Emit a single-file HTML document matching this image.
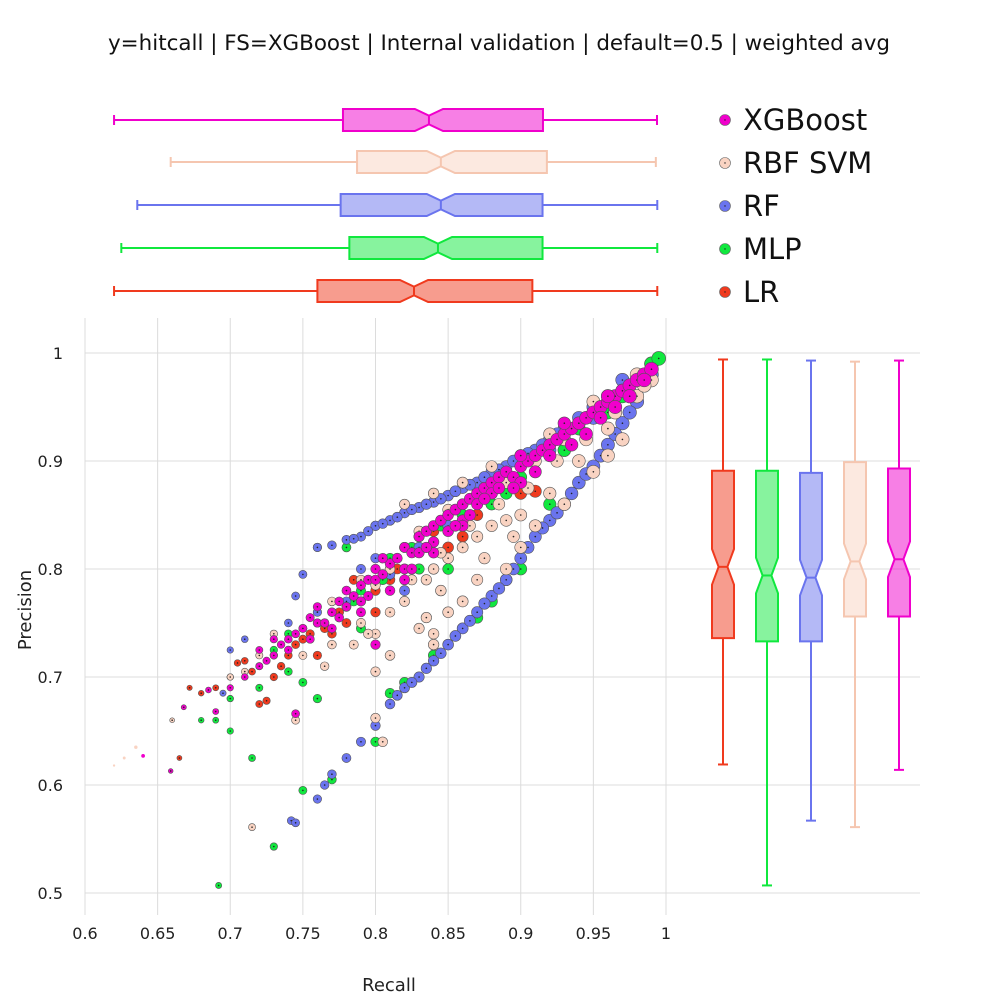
<!DOCTYPE html>
<html><head><meta charset="utf-8"><style>
body{margin:0;background:#fff;font-family:"DejaVu Sans","Liberation Sans",sans-serif}
svg text{font-family:"DejaVu Sans","Liberation Sans",sans-serif}
</style></head><body>
<svg id="chart" width="1000" height="1000" xmlns="http://www.w3.org/2000/svg">
<rect width="1000" height="1000" fill="#fff"/>
<text x="499" y="50" text-anchor="middle" font-size="21.5" fill="#111" textLength="782" lengthAdjust="spacingAndGlyphs">y=hitcall | FS=XGBoost | Internal validation | default=0.5 | weighted avg</text>
<g id="grid"></g><g id="boxesTop"></g><g id="boxesRight"></g><g id="scatter"></g><g id="axes"></g><g id="legend"></g>
<text x="389" y="991" text-anchor="middle" font-size="18" fill="#222">Recall</text>
<text transform="translate(31,610) rotate(-90)" text-anchor="middle" font-size="18" fill="#222">Precision</text>
</svg>
<script>
const seriesNames=["LR","MLP","RF","RBF SVM","XGBoost"];
const seriesColors=["#f03a1e","#10e83e","#6a74ee","#f9d3c2","#f000cc"];
const xTicks=[0.6,0.65,0.7,0.75,0.8,0.85,0.9,0.95,1];
const xTickLabels=["0.6","0.65","0.7","0.75","0.8","0.85","0.9","0.95","1"];
const yTicks=[0.5,0.6,0.7,0.8,0.9,1];
const yTickLabels=["0.5","0.6","0.7","0.8","0.9","1"];
const recallMin=[0.62,0.625,0.636,0.659,0.62];
const recallQ1=[0.76,0.782,0.776,0.7873,0.7776];
const recallMed=[0.8265,0.843,0.845,0.845,0.8368];
const recallQ3=[0.908,0.915,0.915,0.918,0.9153];
const recallMax=[0.994,0.994,0.994,0.993,0.9938];
const recallNotch=[0.0097,0.0097,0.0097,0.0097,0.0097];
const precMin=[0.619,0.507,0.567,0.561,0.614];
const precQ1=[0.736,0.733,0.733,0.756,0.756];
const precMed=[0.802,0.794,0.792,0.807,0.809];
const precQ3=[0.891,0.891,0.889,0.899,0.893];
const precMax=[0.994,0.994,0.993,0.992,0.993];
const precNotch=[0.0165,0.0165,0.0165,0.0165,0.0165];
const lrPoints=[[0.665,0.625],[0.672,0.69],[0.68,0.685],[0.69,0.69],[0.70,0.70],[0.705,0.713],[0.71,0.715],[0.72,0.675],[0.725,0.678],[0.73,0.70],[0.735,0.71],[0.74,0.72],[0.745,0.73],[0.75,0.735],[0.76,0.72],[0.765,0.745],[0.77,0.74],[0.78,0.75],[0.79,0.77],[0.80,0.78],[0.81,0.79],[0.82,0.80],[0.83,0.83],[0.85,0.82],[0.87,0.85],[0.90,0.87],[0.91,0.872],[0.93,0.91],[0.96,0.95],[0.99,0.99],[0.70,0.68],[0.715,0.705],[0.755,0.74],[0.775,0.76],[0.785,0.79],[0.80,0.76],[0.815,0.80],[0.84,0.835],[0.86,0.83],[0.88,0.86],[0.90,0.88]];
const mlpPoints=[[0.692,0.507],[0.73,0.543],[0.715,0.625],[0.75,0.595],[0.77,0.605],[0.76,0.68],[0.74,0.705],[0.70,0.68],[0.69,0.66],[0.68,0.66],[0.70,0.65],[0.72,0.69],[0.75,0.695],[0.78,0.82],[0.76,0.82],[0.80,0.84],[0.79,0.745],[0.80,0.64],[0.81,0.685],[0.82,0.695],[0.84,0.72],[0.87,0.755],[0.88,0.77],[0.89,0.79],[0.90,0.80],[0.92,0.86],[0.86,0.85],[0.83,0.80],[0.85,0.80],[0.88,0.86],[0.90,0.885],[0.93,0.91],[0.95,0.94],[0.97,0.96],[0.99,0.99],[0.995,0.995],[0.77,0.76],[0.79,0.78],[0.81,0.81],[0.74,0.74],[0.73,0.725],[0.765,0.75],[0.785,0.77],[0.805,0.79],[0.825,0.82],[0.845,0.84],[0.87,0.875],[0.89,0.87],[0.94,0.93],[0.96,0.945],[0.98,0.975]];
const rfPoints=[[0.76,0.82],[0.77,0.822],[0.78,0.827],[0.79,0.83],[0.80,0.84],[0.81,0.845],[0.82,0.852],[0.83,0.857],[0.84,0.862],[0.85,0.868],[0.86,0.875],[0.87,0.88],[0.88,0.89],[0.89,0.895],[0.90,0.905],[0.91,0.91],[0.92,0.92],[0.93,0.93],[0.94,0.94],[0.95,0.95],[0.96,0.96],[0.785,0.828],[0.795,0.835],[0.805,0.842],[0.815,0.848],[0.825,0.855],[0.835,0.86],[0.845,0.865],[0.855,0.872],[0.865,0.878],[0.875,0.885],[0.885,0.892],[0.895,0.9],[0.905,0.907],[0.915,0.915],[0.925,0.925],[0.742,0.567],[0.745,0.565],[0.76,0.587],[0.765,0.60],[0.77,0.61],[0.78,0.625],[0.79,0.64],[0.80,0.655],[0.81,0.675],[0.82,0.69],[0.83,0.70],[0.84,0.715],[0.85,0.73],[0.86,0.745],[0.87,0.76],[0.88,0.775],[0.89,0.79],[0.90,0.81],[0.91,0.83],[0.92,0.845],[0.93,0.86],[0.94,0.88],[0.95,0.895],[0.96,0.915],[0.97,0.935],[0.98,0.955],[0.99,0.98],[0.815,0.683],[0.825,0.695],[0.835,0.708],[0.845,0.722],[0.855,0.738],[0.865,0.752],[0.875,0.768],[0.885,0.782],[0.895,0.80],[0.905,0.82],[0.915,0.838],[0.925,0.852],[0.935,0.87],[0.945,0.888],[0.955,0.905],[0.965,0.925],[0.975,0.945],[0.71,0.735],[0.745,0.775],[0.75,0.795],[0.74,0.75],[0.73,0.72],[0.70,0.70],[0.72,0.71],[0.78,0.77],[0.80,0.81],[0.82,0.78],[0.85,0.84],[0.88,0.87],[0.92,0.91],[0.97,0.975],[0.695,0.685],[0.76,0.76],[0.70,0.725],[0.79,0.80],[0.81,0.795],[0.83,0.82],[0.95,0.94]];
const svmPoints=[[0.62,0.618],[0.627,0.625],[0.635,0.635],[0.66,0.66],[0.715,0.561],[0.745,0.66],[0.80,0.705],[0.80,0.662],[0.805,0.64],[0.81,0.72],[0.83,0.745],[0.84,0.74],[0.84,0.73],[0.85,0.76],[0.86,0.77],[0.87,0.79],[0.89,0.80],[0.90,0.82],[0.91,0.84],[0.93,0.86],[0.95,0.89],[0.97,0.92],[0.96,0.905],[0.82,0.77],[0.835,0.79],[0.84,0.80],[0.85,0.81],[0.86,0.82],[0.87,0.83],[0.88,0.84],[0.89,0.845],[0.90,0.85],[0.92,0.87],[0.94,0.90],[0.96,0.93],[0.98,0.96],[0.99,0.975],[0.82,0.86],[0.84,0.87],[0.86,0.88],[0.88,0.895],[0.92,0.925],[0.95,0.955],[0.97,0.965],[0.70,0.70],[0.71,0.705],[0.72,0.72],[0.73,0.74],[0.75,0.745],[0.76,0.75],[0.77,0.77],[0.78,0.765],[0.79,0.79],[0.80,0.785],[0.81,0.80],[0.82,0.82],[0.83,0.835],[0.85,0.855],[0.87,0.865],[0.89,0.88],[0.91,0.90],[0.93,0.92],[0.75,0.72],[0.77,0.73],[0.79,0.75],[0.80,0.74],[0.81,0.76],[0.825,0.79],[0.845,0.815],[0.865,0.84],[0.885,0.86],[0.905,0.875],[0.925,0.90],[0.945,0.92],[0.965,0.945],[0.985,0.97],[0.765,0.71],[0.785,0.73],[0.795,0.74],[0.835,0.755],[0.845,0.78],[0.875,0.81],[0.895,0.83],[0.94,0.935],[0.96,0.955],[0.98,0.98]];
const xgbPoints=[[0.64,0.627],[0.659,0.613],[0.668,0.672],[0.685,0.688],[0.69,0.668],[0.70,0.69],[0.71,0.70],[0.72,0.725],[0.725,0.715],[0.73,0.72],[0.735,0.73],[0.74,0.725],[0.745,0.74],[0.75,0.745],[0.755,0.735],[0.76,0.75],[0.76,0.765],[0.765,0.75],[0.77,0.76],[0.77,0.745],[0.775,0.77],[0.78,0.765],[0.78,0.78],[0.785,0.775],[0.79,0.785],[0.79,0.77],[0.795,0.79],[0.80,0.79],[0.80,0.80],[0.805,0.795],[0.81,0.805],[0.81,0.78],[0.815,0.81],[0.82,0.82],[0.82,0.80],[0.825,0.815],[0.83,0.83],[0.83,0.815],[0.835,0.835],[0.84,0.84],[0.84,0.825],[0.845,0.845],[0.85,0.85],[0.85,0.835],[0.855,0.855],[0.86,0.86],[0.86,0.845],[0.865,0.865],[0.87,0.87],[0.87,0.86],[0.875,0.875],[0.88,0.88],[0.88,0.87],[0.885,0.885],[0.89,0.89],[0.895,0.885],[0.90,0.895],[0.90,0.88],[0.905,0.90],[0.91,0.905],[0.915,0.91],[0.92,0.915],[0.925,0.92],[0.93,0.925],[0.935,0.93],[0.94,0.935],[0.945,0.94],[0.95,0.945],[0.955,0.95],[0.96,0.955],[0.965,0.96],[0.97,0.965],[0.975,0.97],[0.98,0.975],[0.985,0.98],[0.99,0.985],[0.745,0.666],[0.80,0.73],[0.79,0.76],[0.82,0.79],[0.84,0.815],[0.86,0.84],[0.90,0.905],[0.93,0.935],[0.96,0.96],[0.755,0.755],[0.775,0.755],[0.795,0.775],[0.805,0.81],[0.825,0.80],[0.835,0.82],[0.855,0.84],[0.865,0.85],[0.875,0.865],[0.885,0.875],[0.895,0.875],[0.91,0.89],[0.92,0.905],[0.935,0.915],[0.945,0.925],[0.955,0.94],[0.965,0.95],[0.975,0.96],[0.985,0.975],[0.74,0.735],[0.73,0.735],[0.72,0.71]];
const allPoints=[lrPoints,mlpPoints,rfPoints,svmPoints,xgbPoints];

const NS="http://www.w3.org/2000/svg";
const X0=85,X1=666,Y0=353,Y1=893;
const xs=v=>X0+(v-0.6)/0.4*(X1-X0);
const ys=v=>Y0+(1-v)/0.5*(Y1-Y0);
function mk(tag,attrs,parent){const e=document.createElementNS(NS,tag);for(const k in attrs)e.setAttribute(k,attrs[k]);parent.appendChild(e);return e;}
const grid=document.getElementById('grid'),axes=document.getElementById('axes');
xTicks.forEach((t,i)=>{
  const l=mk('line',{x1:xs(t),x2:xs(t),y1:318,y2:915,stroke:'#dcdcdc','stroke-width':1},grid);
  
  
  const tx=mk('text',{x:xs(t),y:939,'text-anchor':'middle','font-size':16,fill:'#222'},axes);
  tx.textContent=xTickLabels[i];
  
  
});
yTicks.forEach((t,i)=>{
  const l=mk('line',{x1:85,x2:920,y1:ys(t),y2:ys(t),stroke:'#dcdcdc','stroke-width':1},grid);
  
  
  const tx=mk('text',{x:63,y:ys(t)+6,'text-anchor':'end','font-size':16,fill:'#222'},axes);
  tx.textContent=yTickLabels[i];
  
  
});
const rowY=[291,248,205,162,120], colX=[723,767,811,855,899];
function boxPts(q1,med,q3,nt,hw){
  const nw=hw*0.4,a=med-nt,b=med+nt;
  return [[q1,-hw],[a,-hw],[med,-nw],[b,-hw],[q3,-hw],[q3,hw],[b,hw],[med,nw],[a,hw],[q1,hw]];
}
const bt=document.getElementById('boxesTop'),br=document.getElementById('boxesRight');
seriesNames.forEach((n,i)=>{
  const c=seriesColors[i],col=i===3?'#f5c6b0':c;
  const g=mk('g',{},bt);
  
  
  const y=rowY[i],hw=11;
  const pts=boxPts(recallQ1[i],recallMed[i],recallQ3[i],recallNotch[i],hw).map(p=>[xs(p[0]),y+p[1]]);
  mk('line',{x1:xs(recallMin[i]),x2:xs(recallQ1[i]),y1:y,y2:y,stroke:col,'stroke-width':2},g);
  mk('line',{x1:xs(recallQ3[i]),x2:xs(recallMax[i]),y1:y,y2:y,stroke:col,'stroke-width':2},g);
  mk('line',{x1:xs(recallMin[i]),x2:xs(recallMin[i]),y1:y-5,y2:y+5,stroke:col,'stroke-width':2},g);
  mk('line',{x1:xs(recallMax[i]),x2:xs(recallMax[i]),y1:y-5,y2:y+5,stroke:col,'stroke-width':2},g);
  mk('polygon',{points:pts.map(p=>p.join(',')).join(' '),fill:c,'fill-opacity':0.5,stroke:col,'stroke-width':2},g);
  mk('line',{x1:xs(recallMed[i]),x2:xs(recallMed[i]),y1:y-4.4,y2:y+4.4,stroke:col,'stroke-width':2},g);
  const g2=mk('g',{},br);
  
  
  const x=colX[i];
  const pts2=boxPts(precQ1[i],precMed[i],precQ3[i],precNotch[i],hw).map(p=>[x+p[1],ys(p[0])]);
  mk('line',{x1:x,x2:x,y1:ys(precMin[i]),y2:ys(precQ1[i]),stroke:col,'stroke-width':2},g2);
  mk('line',{x1:x,x2:x,y1:ys(precQ3[i]),y2:ys(precMax[i]),stroke:col,'stroke-width':2},g2);
  mk('line',{x1:x-5,x2:x+5,y1:ys(precMin[i]),y2:ys(precMin[i]),stroke:col,'stroke-width':2},g2);
  mk('line',{x1:x-5,x2:x+5,y1:ys(precMax[i]),y2:ys(precMax[i]),stroke:col,'stroke-width':2},g2);
  mk('polygon',{points:pts2.map(p=>p.join(',')).join(' '),fill:c,'fill-opacity':0.5,stroke:col,'stroke-width':2},g2);
  mk('line',{x1:x-4.4,x2:x+4.4,y1:ys(precMed[i]),y2:ys(precMed[i]),stroke:col,'stroke-width':2},g2);
});
const sc=document.getElementById('scatter');
allPoints.forEach((pts,i)=>{
  const g=mk('g',{},sc);
  
  
  pts.forEach(p=>{
    const f=Math.max(p[0]-0.6,0.005)/0.4;
    const d=Math.max(1.5,15*Math.pow(f,0.5)-1);
    const cx=xs(p[0]),cy=ys(p[1]);
    const m=mk('circle',{cx:cx,cy:cy,r:d/2,fill:seriesColors[i],stroke:'#555','stroke-width':d>4?0.6:0},g);
    
    
    if(d>4)mk('circle',{cx:cx,cy:cy,r:0.8,fill:'#222'},g);
  });
});
const lg=document.getElementById('legend');
for(let k=0;k<5;k++){
  const i=4-k,y=120+k*43;
  const g=mk('g',{},lg);
  
  
  mk('circle',{cx:725,cy:y,r:5.5,fill:seriesColors[i],stroke:'#666','stroke-width':0.6},g);
  mk('circle',{cx:725,cy:y,r:0.7,fill:'#222'},g);
  const t=mk('text',{x:743,y:y+10,'font-size':29,fill:'#111'},g);
  t.textContent=seriesNames[i];
}
</script>
</body></html>
